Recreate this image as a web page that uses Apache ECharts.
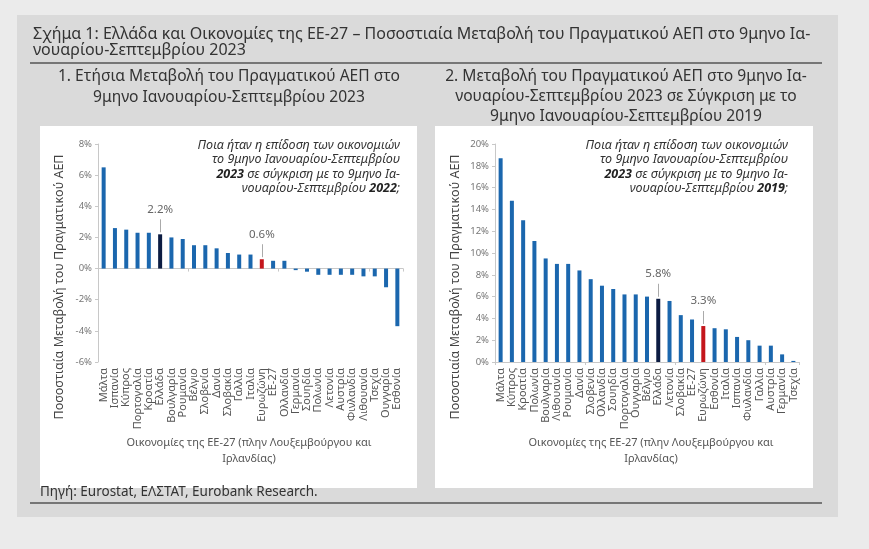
<!DOCTYPE html>
<html><head><meta charset="utf-8">
<script src="https://cdn.jsdelivr.net/npm/echarts@6/dist/echarts.min.js"></script>
<style>html,body{margin:0;padding:0;background:#ebebeb}#c{width:869px;height:549px}</style>
</head><body><div id="c"></div>
<script>
// ---- data ----
const catsA = ['Μάλτα','Ισπανία','Κύπρος','Πορτογαλία','Κροατία','Ελλάδα','Βουλγαρία','Ρουμανία','Βέλγιο','Σλοβενία','Δανία','Σλοβακία','Γαλλία','Ιταλία','Ευρωζώνη','ΕΕ-27','Ολλανδία','Γερμανία','Σουηδία','Πολωνία','Λετονία','Αυστρία','Φινλανδία','Λιθουανία','Τσεχία','Ουγγαρία','Εσθονία'];
const valsA = [6.5,2.6,2.5,2.3,2.3,2.2,2.0,1.9,1.5,1.5,1.3,1.0,0.9,0.9,0.6,0.5,0.5,-0.1,-0.2,-0.4,-0.4,-0.4,-0.4,-0.5,-0.5,-1.2,-3.7];
const catsB = ['Μάλτα','Κύπρος','Κροατία','Πολωνία','Βουλγαρία','Λιθουανία','Ρουμανία','Δανία','Σλοβενία','Ολλανδία','Σουηδία','Πορτογαλία','Ουγγαρία','Βέλγιο','Ελλάδα','Λετονία','Σλοβακία','ΕΕ-27','Ευρωζώνη','Εσθονία','Ιταλία','Ισπανία','Φινλανδία','Γαλλία','Αυστρία','Γερμανία','Τσεχία'];
const valsB = [18.7,14.8,13.0,11.1,9.5,9.0,9.0,8.4,7.6,7.0,6.7,6.2,6.2,6.0,5.8,5.6,4.3,3.9,3.3,3.1,3.0,2.3,2.0,1.5,1.5,0.7,0.1];
const ticksA = {min:-6, max:8, interval:2};
const ticksB = {min:0, max:20, interval:2};
const highlightDark = 'Ελλάδα';
const highlightRed = 'Ευρωζώνη';

const BLUE = '#1b67ae', DARK = '#0c1c42', RED = '#c4161c';
const FONT = 'Noto Sans';

function barData(cats, vals){
  return vals.map((v,i)=>{
    const c = cats[i];
    const o = {value:v};
    if (c===highlightDark || c===highlightRed){
      o.itemStyle = {color: c===highlightDark?DARK:RED};
      o.label = {show:true, position:'top', distance:19, formatter: v.toFixed(1)+'%', color:'#666', fontSize:11.5, fontFamily:FONT};
    }
    return o;
  });
}
function leaders(cats, vals, span){
  const ppu = 218/span;
  const out = [];
  vals.forEach((v,i)=>{
    const c = cats[i];
    if (c===highlightDark || c===highlightRed){
      out.push([{coord:[c, v+2/ppu]},{coord:[c, v+15/ppu]}]);
    }
  });
  return out;
}

function xAxes(cats, gi){
  return [
    {type:'category', data:cats, gridIndex:gi, position:'bottom', axisLine:{onZero:false, show:false}, axisTick:{show:false},
     axisLabel:{rotate:90, fontSize:11, color:'#555', margin:6, fontFamily:FONT, interval:0}},
    {type:'category', data:cats, gridIndex:gi, position:'bottom', axisLine:{onZero:true, lineStyle:{color:'#c8c8c8'}},
     axisTick:{show:true, length:3, lineStyle:{color:'#c8c8c8'}}, axisLabel:{show:false}}
  ];
}
function yAxis(t, gi){
  return {type:'value', gridIndex:gi, min:t.min, max:t.max, interval:t.interval,
    axisLine:{show:true, lineStyle:{color:'#c8c8c8'}}, axisTick:{show:true, length:3, lineStyle:{color:'#c8c8c8'}},
    splitLine:{show:false}, axisLabel:{formatter:'{value}%', fontSize:9.5, color:'#777', margin:6, fontFamily:FONT}};
}

const txt = (x,y,text,opt)=>({type:'text', x, y, style:Object.assign({text, fill:'#333', font:'15.6px "'+FONT+'"', textVerticalAlign:'middle'}, opt||{})});

const annA = [
  '{n|Ποια ήταν η επίδοση των οικονομιών}',
  '{n|το 9μηνο Ιανουαρίου-Σεπτεμβρίου}',
  '{b|2023} {n|σε σύγκριση με το 9μηνο Ια-}',
  '{n|νουαρίου-Σεπτεμβρίου }{b|2022}{n|;}'
].join('\n');
const annB = [
  '{n|Ποια ήταν η επίδοση των οικονομιών}',
  '{n|το 9μηνο Ιανουαρίου-Σεπτεμβρίου}',
  '{b|2023} {n|σε σύγκριση με το 9μηνο Ια-}',
  '{n|νουαρίου-Σεπτεμβρίου }{b|2019}{n|;}'
].join('\n');
const annRich = {
  n:{fontFamily:FONT, fontStyle:'italic', fontSize:12.5, fill:'#333', lineHeight:14.5},
  b:{fontFamily:FONT, fontStyle:'italic', fontWeight:'bold', fontSize:12.5, fill:'#222', lineHeight:14.5}
};

const chart = echarts.init(document.getElementById('c'));
chart.setOption({
  backgroundColor:'#ebebeb',
  animation:false,
  graphic:[
    {type:'rect', shape:{x:17,y:15,width:821,height:502}, style:{fill:'#dadada'}, z:-10},
    {type:'rect', shape:{x:40,y:126,width:377,height:362}, style:{fill:'#fff'}, z:-9},
    {type:'rect', shape:{x:435,y:126,width:378,height:362}, style:{fill:'#fff'}, z:-9},
    txt(33,34,'Σχήμα 1: Ελλάδα και Οικονομίες της ΕΕ-27 – Ποσοστιαία Μεταβολή του Πραγματικού ΑΕΠ στο 9μηνο Ια-',{font:'16px "'+FONT+'"'}),
    txt(33,50,'νουαρίου-Σεπτεμβρίου 2023',{font:'16px "'+FONT+'"'}),
    {type:'line', shape:{x1:30,y1:63,x2:822,y2:63}, style:{stroke:'#555', lineWidth:1.5}},
    txt(229,77,'1. Ετήσια Μεταβολή του Πραγματικού ΑΕΠ στο',{textAlign:'center'}),
    txt(229,98,'9μηνο Ιανουαρίου-Σεπτεμβρίου 2023',{textAlign:'center'}),
    txt(626,77,'2. Μεταβολή του Πραγματικού ΑΕΠ στο 9μηνο Ια-',{textAlign:'center'}),
    txt(626,97,'νουαρίου-Σεπτεμβρίου 2023 σε Σύγκριση με το',{textAlign:'center'}),
    txt(626,117,'9μηνο Ιανουαρίου-Σεπτεμβρίου 2019',{textAlign:'center'}),
    txt(40,492,'Πηγή: Eurostat, ΕΛΣΤΑΤ, Eurobank Research.',{font:'13.5px "'+FONT+'"'}),
    {type:'line', shape:{x1:30,y1:503,x2:822,y2:503}, style:{stroke:'#555', lineWidth:1.5}},
    {type:'text', x:59, y:287, rotation:Math.PI/2, style:{text:'Ποσοστιαία Μεταβολή του Πραγματικού ΑΕΠ', fill:'#444', font:'12.5px "'+FONT+'"', textAlign:'center', textVerticalAlign:'middle'}},
    {type:'text', x:455, y:287, rotation:Math.PI/2, style:{text:'Ποσοστιαία Μεταβολή του Πραγματικού ΑΕΠ', fill:'#444', font:'12.5px "'+FONT+'"', textAlign:'center', textVerticalAlign:'middle'}},
    txt(249,443,'Οικονομίες της ΕΕ-27 (πλην Λουξεμβούργου και',{textAlign:'center', fill:'#555', font:'11px "'+FONT+'"'}),
    txt(249,459,'Ιρλανδίας)',{textAlign:'center', fill:'#555', font:'11px "'+FONT+'"'}),
    txt(651,443,'Οικονομίες της ΕΕ-27 (πλην Λουξεμβούργου και',{textAlign:'center', fill:'#555', font:'11px "'+FONT+'"'}),
    txt(651,459,'Ιρλανδίας)',{textAlign:'center', fill:'#555', font:'11px "'+FONT+'"'}),
    {type:'text', x:400, y:138, style:{text:annA, rich:annRich, textAlign:'right', textVerticalAlign:'top'}},
    {type:'text', x:788, y:138, style:{text:annB, rich:annRich, textAlign:'right', textVerticalAlign:'top'}}
  ],
  grid:[
    {left:98, top:144, width:305, height:218},
    {left:495, top:144, width:304, height:218}
  ],
  xAxis:[...xAxes(catsA,0), ...xAxes(catsB,1)],
  yAxis:[yAxis(ticksA,0), yAxis(ticksB,1)],
  series:[
    {type:'bar', xAxisIndex:0, yAxisIndex:0, data:barData(catsA,valsA), barWidth:4, itemStyle:{color:BLUE},
     markLine:{silent:true, symbol:'none', label:{show:false}, lineStyle:{color:'#aaa', width:1, type:'solid'}, data:leaders(catsA,valsA,ticksA.max-ticksA.min)}},
    {type:'bar', xAxisIndex:2, yAxisIndex:1, data:barData(catsB,valsB), barWidth:4, itemStyle:{color:BLUE},
     markLine:{silent:true, symbol:'none', label:{show:false}, lineStyle:{color:'#aaa', width:1, type:'solid'}, data:leaders(catsB,valsB,ticksB.max-ticksB.min)}}
  ]
});
</script></body></html>
